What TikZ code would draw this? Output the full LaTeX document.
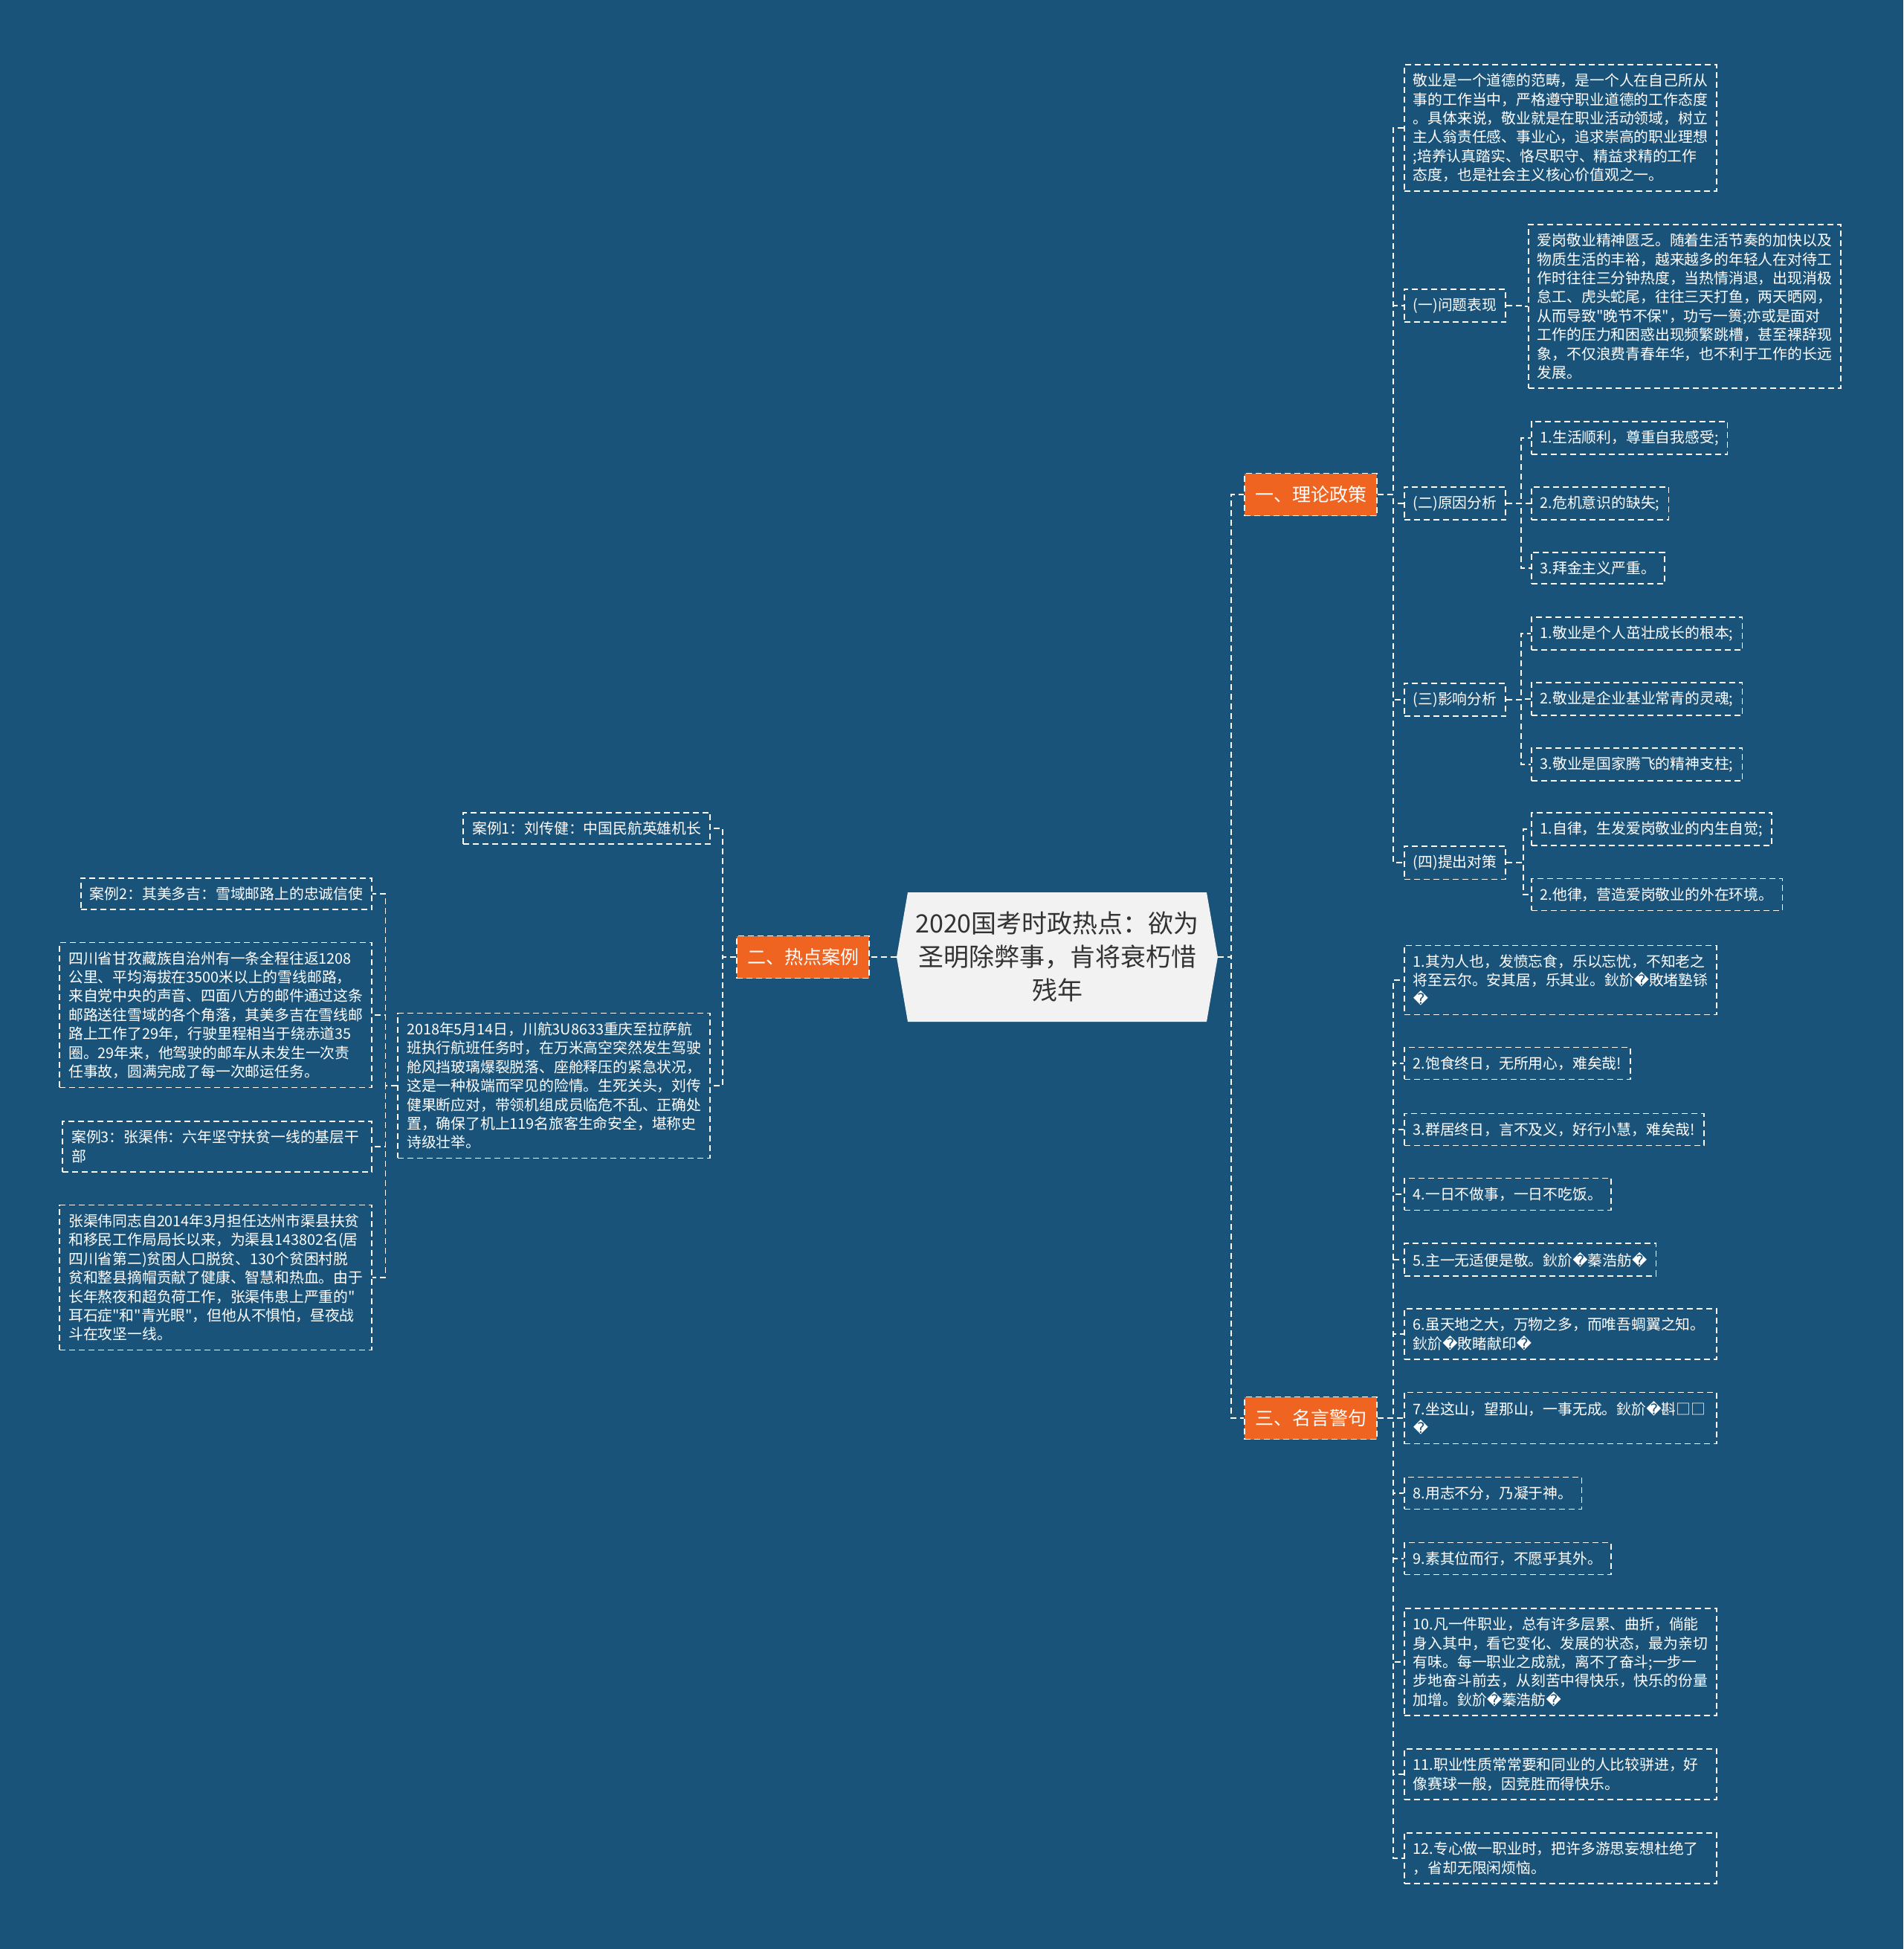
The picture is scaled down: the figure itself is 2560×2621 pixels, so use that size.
\documentclass[tikz,border=0pt]{standalone}
\usepackage{fontspec}
\setmainfont{Noto Sans CJK SC}[Ligatures=TeXOff]
\newfontfamily\dejavu{DejaVu Sans}
\definecolor{bgblue}{HTML}{1A5379}
\definecolor{hotorange}{HTML}{EF6421}
\definecolor{rootgray}{HTML}{F2F2F2}
\definecolor{roottext}{HTML}{333333}
\newcommand{\bad}{{\dejavu\char"FFFD}}
\tikzset{
  dashline/.style={dash pattern=on 4pt off 2.5pt, line width=0.8pt},
  leaf/.style={draw=white, dashline, text=white, align=left, inner xsep=6pt, inner ysep=6pt,
    font=\fontsize{9.9pt}{12.7pt}\selectfont},
  wide/.style={leaf, text width=198pt},
  branch/.style={draw=white, dashline, fill=hotorange, text=white, minimum width=89pt,
    minimum height=28.5pt, inner sep=2pt, font=\fontsize{12.5pt}{15pt}\selectfont},
  root/.style={text=roottext, align=center, minimum width=201pt, minimum height=87pt,
    font=\fontsize{17pt}{22.5pt}\selectfont},
  link/.style={draw=white, dashline}
}

\begin{document}
\begin{tikzpicture}[x=0.5pt, y=-0.5pt]
		\fill[bgblue] (0,0) rectangle (2560,2621);
		\useasboundingbox (0,0) rectangle (2560,2621);

		% centre
		\fill[rootgray] (1221,1200) -- (1623,1200) -- (1638,1287) -- (1623,1374)
			-- (1221,1374) -- (1206,1287) -- cycle;
		\node[root] (root) at (1422,1287) {2020国考时政热点：欲为\\圣明除弊事，肯将衰朽惜\\残年};
		\coordinate (rootW) at (1206,1287);
		\coordinate (rootE) at (1638,1287);

		\node[branch] (lilun) at (1763,665) {一、理论政策};
		\node[branch] (redian) at (1080,1287) {二、热点案例};
		\node[branch] (mingyan) at (1763,1907) {三、名言警句};

		% 一
		\node[wide, anchor=west] (jingye) at (1888,172) {敬业是一个道德的范畴，是一个人在自己所从\\事的工作当中，严格遵守职业道德的工作态度\\。具体来说，敬业就是在职业活动领域，树立\\主人翁责任感、事业心，追求崇高的职业理想\\;培养认真踏实、恪尽职守、精益求精的工作\\态度，也是社会主义核心价值观之一。};
		\node[leaf, anchor=west] (wenti) at (1888,411) {(一)问题表现};
		\node[leaf, anchor=west] (aigang) at (2055,412) {爱岗敬业精神匮乏。随着生活节奏的加快以及\\物质生活的丰裕，越来越多的年轻人在对待工\\作时往往三分钟热度，当热情消退，出现消极\\怠工、虎头蛇尾，往往三天打鱼，两天晒网，\\从而导致"晚节不保"，功亏一篑;亦或是面对\\工作的压力和困惑出现频繁跳槽，甚至裸辞现\\象，不仅浪费青春年华，也不利于工作的长远\\发展。};
		\node[leaf, anchor=west] (yuanyin) at (1888,677) {(二)原因分析};
		\node[leaf, anchor=west] (yy1) at (2059,589) {1.生活顺利，尊重自我感受;};
		\node[leaf, anchor=west] (yy2) at (2059,677) {2.危机意识的缺失;};
		\node[leaf, anchor=west] (yy3) at (2059,764) {3.拜金主义严重。};
		\node[leaf, anchor=west] (yingxiang) at (1888,941) {(三)影响分析};
		\node[leaf, anchor=west] (yx1) at (2059,852) {1.敬业是个人茁壮成长的根本;};
		\node[leaf, anchor=west] (yx2) at (2059,940) {2.敬业是企业基业常青的灵魂;};
		\node[leaf, anchor=west] (yx3) at (2059,1028) {3.敬业是国家腾飞的精神支柱;};
		\node[leaf, anchor=west] (duice) at (1888,1160) {(四)提出对策};
		\node[leaf, anchor=west] (dc1) at (2059,1115) {1.自律，生发爱岗敬业的内生自觉;};
		\node[leaf, anchor=west] (dc2) at (2059,1203) {2.他律，营造爱岗敬业的外在环境。};

		% 三
		\node[wide, anchor=west] (q1) at (1888,1318) {1.其为人也，发愤忘食，乐以忘忧，不知老之\\将至云尔。安其居，乐其业。鈥斺\bad 敗堵塾铩\\\bad};
		\node[leaf, anchor=west] (q2) at (1888,1430) {2.饱食终日，无所用心，难矣哉!};
		\node[leaf, anchor=west] (q3) at (1888,1519) {3.群居终日，言不及义，好行小慧，难矣哉!};
		\node[leaf, anchor=west] (q4) at (1888,1606) {4.一日不做事，一日不吃饭。};
		\node[leaf, anchor=west] (q5) at (1888,1694) {5.主一无适便是敬。鈥斺\bad 蓁浩舫\bad};
		\node[wide, anchor=west] (q6) at (1888,1794) {6.虽天地之大，万物之多，而唯吾蜩翼之知。\\鈥斺\bad 敗睹献印\bad};
		\node[wide, anchor=west] (q7) at (1888,1907) {7.坐这山，望那山，一事无成。鈥斺\bad 斟□□\\\bad};
		\node[leaf, anchor=west] (q8) at (1888,2008) {8.用志不分，乃凝于神。};
		\node[leaf, anchor=west] (q9) at (1888,2096) {9.素其位而行，不愿乎其外。};
		\node[wide, anchor=west] (q10) at (1888,2235) {10.凡一件职业，总有许多层累、曲折，倘能\\身入其中，看它变化、发展的状态，最为亲切\\有味。每一职业之成就，离不了奋斗;一步一\\步地奋斗前去，从刻苦中得快乐，快乐的份量\\加增。鈥斺\bad 蓁浩舫\bad};
		\node[wide, anchor=west] (q11) at (1888,2386) {11.职业性质常常要和同业的人比较骈进，好\\像赛球一般，因竞胜而得快乐。};
		\node[wide, anchor=west] (q12) at (1888,2499) {12.专心做一职业时，把许多游思妄想杜绝了\\，省却无限闲烦恼。};

		% 二
		\node[leaf, anchor=east] (anli1) at (956,1114) {案例1：刘传健：中国民航英雄机长};
		\node[leaf, anchor=east] (liu) at (956,1460) {2018年5月14日，川航3U8633重庆至拉萨航\\班执行航班任务时，在万米高空突然发生驾驶\\舱风挡玻璃爆裂脱落、座舱释压的紧急状况，\\这是一种极端而罕见的险情。生死关头，刘传\\健果断应对，带领机组成员临危不乱、正确处\\置，确保了机上119名旅客生命安全，堪称史\\诗级壮举。};
		\node[leaf, anchor=east] (anli2) at (501,1202) {案例2：其美多吉：雪域邮路上的忠诚信使};
		\node[leaf, anchor=east] (qimei) at (501,1365) {四川省甘孜藏族自治州有一条全程往返1208\\公里、平均海拔在3500米以上的雪线邮路，\\来自党中央的声音、四面八方的邮件通过这条\\邮路送往雪域的各个角落，其美多吉在雪线邮\\路上工作了29年，行驶里程相当于绕赤道35\\圈。29年来，他驾驶的邮车从未发生一次责\\任事故，圆满完成了每一次邮运任务。};
		\node[leaf, anchor=east, text width=196pt] (anli3) at (501,1542) {案例3：张渠伟：六年坚守扶贫一线的基层干\\部};
		\node[leaf, anchor=east] (zhang) at (501,1718) {张渠伟同志自2014年3月担任达州市渠县扶贫\\和移民工作局局长以来，为渠县143802名(居\\四川省第二)贫困人口脱贫、130个贫困村脱\\贫和整县摘帽贡献了健康、智慧和热血。由于\\长年熬夜和超负荷工作，张渠伟患上严重的"\\耳石症"和"青光眼"，但他从不惧怕，昼夜战\\斗在攻坚一线。};

		% links
		\draw[link] (rootE) -- ++(18,0) |- (lilun.west);
		\draw[link] (rootE) -- ++(18,0) |- (mingyan.west);
		\draw[link] (rootW) -- (redian.east);

		\foreach \c in {jingye,wenti,yuanyin,yingxiang,duice}
			\draw[link] (lilun.east) -- ++(21,0) |- (\c.west);
		\draw[link] (wenti.east) -- ++(20,0) |- (aigang.west);
		\foreach \c in {yy1,yy2,yy3}
			\draw[link] (yuanyin.east) -- ++(20,0) |- (\c.west);
		\foreach \c in {yx1,yx2,yx3}
			\draw[link] (yingxiang.east) -- ++(20,0) |- (\c.west);
		\foreach \c in {dc1,dc2}
			\draw[link] (duice.east) -- ++(23,0) |- (\c.west);
		\foreach \i in {1,...,12}
			\draw[link] (mingyan.east) -- ++(21,0) |- (q\i.west);

		\foreach \c in {anli1,liu}
			\draw[link] (redian.west) -- ++(-18,0) |- (\c.east);
		\foreach \c in {anli2,qimei,anli3,zhang}
			\draw[link] (liu.west) -- ++(-16,0) |- (\c.east);
	\end{tikzpicture}
\end{document}
